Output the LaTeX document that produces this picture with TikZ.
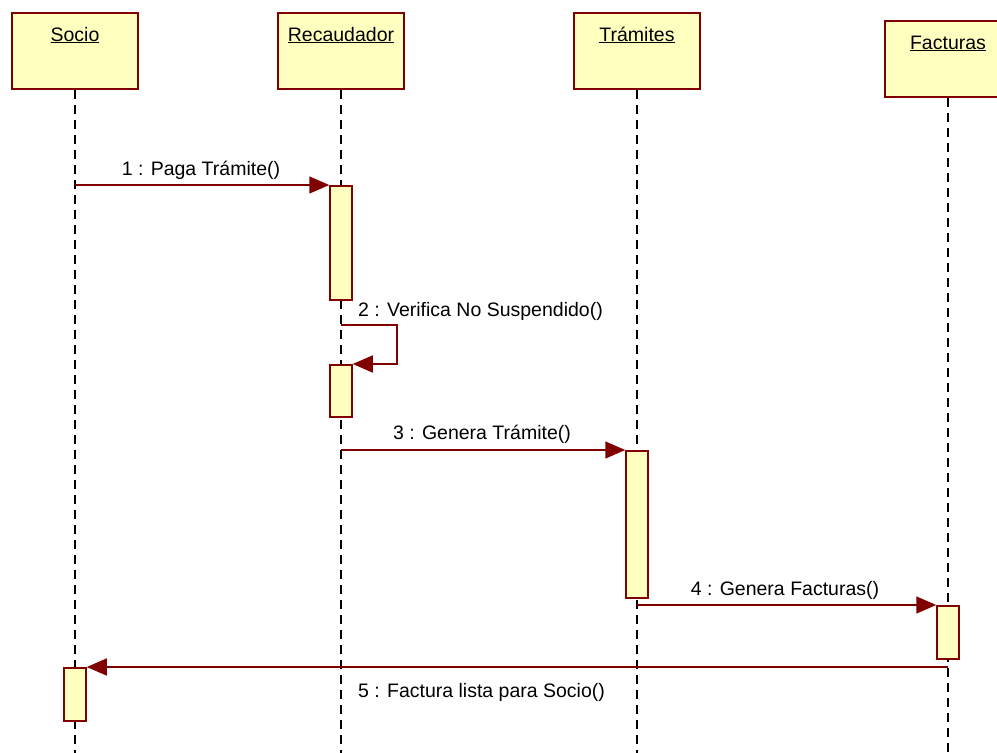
\documentclass[tikz,border=0pt]{standalone}
\usepackage{fontspec}
\setmainfont{Liberation Sans}
\usetikzlibrary{arrows.meta}
\definecolor{umlred}{RGB}{128,0,0}
\definecolor{umlfill}{RGB}{255,255,192}

\begin{document}
\begin{tikzpicture}[x = 1pt, y = -1pt, font = \fontsize{19.5}{22}\selectfont,
  objbox/.style = {draw = umlred, fill = umlfill, line width = 1.5pt, minimum width = 126pt,
    inner sep = 0pt, text height = 28pt, text depth = 48pt},
  actbox/.style = {draw = umlred, fill = umlfill, line width = 1.5pt, minimum width = 22pt,
    inner sep = 0pt, anchor = north},
  lifeline/.style = {dash pattern = on 9pt off 6pt, line width = 1.3pt},
  msg/.style = {draw = umlred, line width = 1.5pt, -{Triangle[length = 20pt, width = 17pt]}},
  msglabel/.style = {inner sep = 0pt, anchor = base}]
\useasboundingbox (0,0) rectangle (997,753);
\coordinate (bottom) at (0,753);
\node [objbox] (socio) at (75,51) {\underline{Socio}};
\node [objbox] (recaud) at (341,51) {\underline{Recaudador}};
\node [objbox] (tramites) at (637,51) {\underline{Trámites}};
\node [objbox] (facturas) at (948,59) {\underline{Facturas}};
\foreach \obj in {socio, recaud, tramites, facturas}
  \draw[lifeline] (\obj.south) -- (\obj.south |- bottom); % dashed lifelines
\node [actbox, minimum height = 114pt] (act1) at (341,185) {};
\node [actbox, minimum height = 52pt] (act2) at (341,364) {};
\node [actbox, minimum height = 147pt] (act3) at (637,450) {};
\node [actbox, minimum height = 53pt] (act4) at (948,605) {};
\node [actbox, minimum height = 53pt] (act5) at (75,667) {};
\coordinate (self) at (397,325);
\draw[msg] (act1.north west -| socio) -- (act1.north west);
\draw[msg] (self -| recaud) -- (self) |- (act2.north east);
\draw[msg] (act3.north west -| recaud) -- (act3.north west);
\draw[msg] (act4.north west -| tramites) -- (act4.north west);
\draw[msg] (act5.north east -| facturas) -- (act5.north east);
\node [msglabel] (lbl1) at (201,175) {1 : Paga Trámite()};
\node [msglabel, anchor = base west] (lbl2) at (358,316) {2 : Verifica No Suspendido()};
\node [msglabel] (lbl3) at (482,439) {3 : Genera Trámite()};
\node [msglabel] (lbl4) at (785,595) {4 : Genera Facturas()};
\node [msglabel, anchor = base west] (lbl5) at (358,697) {5 : Factura lista para Socio()};
\end{tikzpicture}
\end{document}
